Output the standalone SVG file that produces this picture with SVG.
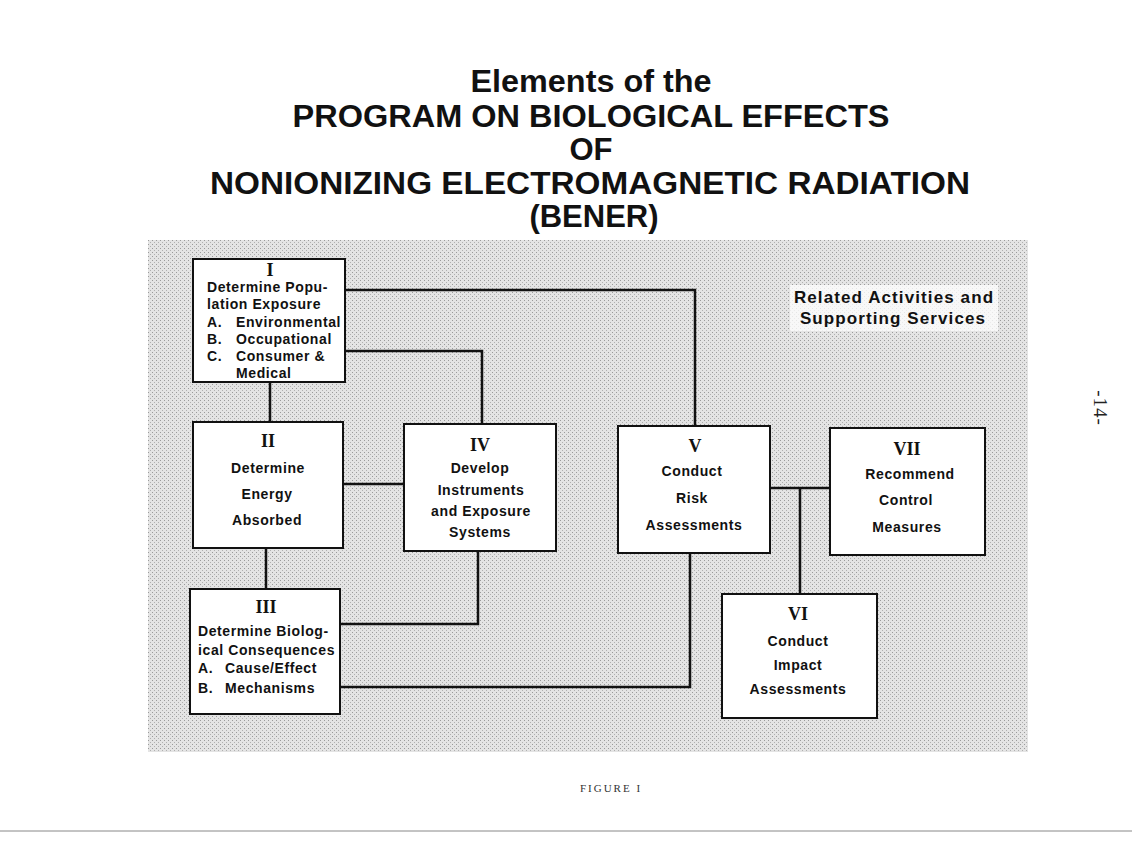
<svg xmlns="http://www.w3.org/2000/svg" width="1132" height="848" viewBox="0 0 1132 848">
<defs>
<pattern id="dots" width="4" height="4" patternUnits="userSpaceOnUse">
<rect width="4" height="4" fill="#e4e4e4"/>
<rect x="0" y="0" width="1" height="1" fill="#9a9a9a"/>
<rect x="2" y="2" width="1" height="1" fill="#b0b0b0"/>
</pattern>
</defs>
<style>
.box{fill:#ffffff;stroke:#111;stroke-width:2}
.con{fill:none;stroke:#111;stroke-width:2.5}
.t{font-family:"Liberation Sans",Arial,sans-serif;font-weight:bold;font-size:14px;letter-spacing:0.6px;fill:#111}
.c{text-anchor:middle}
.r{font-family:"Liberation Serif","Times New Roman",serif;font-weight:bold;font-size:18px;fill:#111;text-anchor:middle}
.h{font-family:"Liberation Sans",Arial,sans-serif;font-weight:bold;font-size:31px;fill:#111;text-anchor:middle}
.ra{font-family:"Liberation Sans",Arial,sans-serif;font-weight:bold;font-size:17px;letter-spacing:1.1px;fill:#111;text-anchor:middle}
</style>
<rect width="1132" height="848" fill="#ffffff"/>
<rect x="148" y="240" width="880" height="512" fill="url(#dots)"/>
<g id="title">
<text class="h" x="591" y="92" textLength="241" lengthAdjust="spacingAndGlyphs">Elements of the</text>
<text class="h" x="591" y="127" textLength="597" lengthAdjust="spacingAndGlyphs">PROGRAM ON BIOLOGICAL EFFECTS</text>
<text class="h" x="591" y="160">OF</text>
<text class="h" x="590" y="194" textLength="760" lengthAdjust="spacingAndGlyphs">NONIONIZING ELECTROMAGNETIC RADIATION</text>
<text class="h" x="594" y="227">(BENER)</text>
</g>
<g id="connectors">
<polyline class="con" points="345,290 695,290 695,426"/>
<polyline class="con" points="345,351 482,351 482,424"/>
<line class="con" x1="270" y1="382" x2="270" y2="422"/>
<line class="con" x1="343" y1="484" x2="404" y2="484"/>
<line class="con" x1="266" y1="548" x2="266" y2="589"/>
<polyline class="con" points="478,551 478,624 340,624"/>
<polyline class="con" points="340,687 690,687 690,553"/>
<line class="con" x1="770" y1="488" x2="830" y2="488"/>
<line class="con" x1="800" y1="488" x2="800" y2="594"/>
</g>
<g id="node-I">
<rect class="box" x="193" y="259" width="152" height="123"/>
<text class="r" x="270" y="276">I</text>
<text class="t" x="207" y="292">Determine Popu-</text>
<text class="t" x="207" y="309">lation Exposure</text>
<text class="t" x="207" y="327">A.<tspan x="236">Environmental</tspan></text>
<text class="t" x="207" y="344">B.<tspan x="236">Occupational</tspan></text>
<text class="t" x="207" y="361">C.<tspan x="236">Consumer &amp;</tspan></text>
<text class="t" x="236" y="378">Medical</text>
</g>
<g id="node-II">
<rect class="box" x="193" y="422" width="150" height="126"/>
<text class="r" x="268" y="447">II</text>
<text class="t c" x="268" y="473">Determine</text>
<text class="t c" x="267" y="499">Energy</text>
<text class="t c" x="267" y="525">Absorbed</text>
</g>
<g id="node-IV">
<rect class="box" x="404" y="424" width="152" height="127"/>
<text class="r" x="480" y="451">IV</text>
<text class="t c" x="480" y="473">Develop</text>
<text class="t c" x="481" y="495">Instruments</text>
<text class="t c" x="481" y="516">and Exposure</text>
<text class="t c" x="480" y="537">Systems</text>
</g>
<g id="node-III">
<rect class="box" x="190" y="589" width="150" height="125"/>
<text class="r" x="266" y="613">III</text>
<text class="t" x="198" y="636">Determine Biolog-</text>
<text class="t" x="198" y="655">ical Consequences</text>
<text class="t" x="198" y="673">A.<tspan x="225">Cause/Effect</tspan></text>
<text class="t" x="198" y="693">B.<tspan x="225">Mechanisms</tspan></text>
</g>
<g id="node-V">
<rect class="box" x="618" y="426" width="152" height="127"/>
<text class="r" x="695" y="452">V</text>
<text class="t c" x="692" y="476">Conduct</text>
<text class="t c" x="692" y="503">Risk</text>
<text class="t c" x="694" y="530">Assessments</text>
</g>
<g id="node-VII">
<rect class="box" x="830" y="428" width="155" height="127"/>
<text class="r" x="907" y="455">VII</text>
<text class="t c" x="910" y="479">Recommend</text>
<text class="t c" x="906" y="505">Control</text>
<text class="t c" x="907" y="532">Measures</text>
</g>
<g id="node-VI">
<rect class="box" x="722" y="594" width="155" height="124"/>
<text class="r" x="798" y="620">VI</text>
<text class="t c" x="798" y="646">Conduct</text>
<text class="t c" x="798" y="670">Impact</text>
<text class="t c" x="798" y="694">Assessments</text>
</g>
<g id="related">
<rect x="790" y="285" width="208" height="46" fill="#ffffff" opacity="0.75"/>
<text class="ra" x="894" y="303">Related Activities and</text>
<text class="ra" x="893" y="324">Supporting Services</text>
</g>
<text x="1100" y="414" transform="rotate(90 1100 408)" style="font-family:'Liberation Serif',serif;font-size:19px;letter-spacing:1px;fill:#222;text-anchor:middle">-14-</text>
<text x="611" y="792" style="font-family:'Liberation Serif',serif;font-size:11px;fill:#333;text-anchor:middle;letter-spacing:2px">FIGURE I</text>
<line x1="0" y1="831" x2="1132" y2="831" stroke="#888" stroke-width="1"/>
</svg>
